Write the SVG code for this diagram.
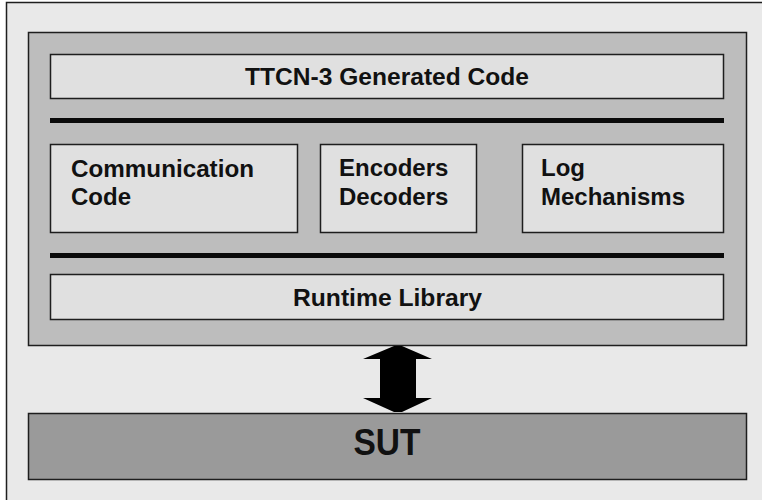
<svg xmlns="http://www.w3.org/2000/svg" width="762" height="500" viewBox="0 0 762 500">
<style>
  .box { fill: #e0e0e0; stroke: #1e1e1e; stroke-width: 1.5; }
  .lbl { font-family: "Liberation Sans", Arial, sans-serif; font-weight: bold; font-size: 24px; fill: #111; }
  .bar { fill: #0a0a0a; }
</style>
<rect x="0" y="0" width="762" height="500" fill="#ffffff"/>
<rect x="6.5" y="2.5" width="770" height="510" fill="#e9e9e9" stroke="#1e1e1e" stroke-width="1.5"/>
<g id="platform">
  <rect x="28.5" y="32.5" width="718" height="313" fill="#bdbdbd" stroke="#1e1e1e" stroke-width="1.5"/>
</g>
<g id="ttcn">
  <rect class="box" x="50.5" y="54.5" width="673" height="44"/>
  <text class="lbl" x="387" y="85" text-anchor="middle" textLength="284" lengthAdjust="spacingAndGlyphs">TTCN-3 Generated Code</text>
</g>
<g id="bar1"><rect class="bar" x="50" y="118" width="674" height="5"/></g>
<g id="comm">
  <rect class="box" x="50.5" y="144.5" width="247" height="88"/>
  <text class="lbl" x="71" y="177" textLength="183" lengthAdjust="spacingAndGlyphs">Communication</text>
  <text class="lbl" x="71" y="205">Code</text>
</g>
<g id="enc">
  <rect class="box" x="320.5" y="144.5" width="156" height="88"/>
  <text class="lbl" x="339" y="176">Encoders</text>
  <text class="lbl" x="339" y="205">Decoders</text>
</g>
<g id="log">
  <rect class="box" x="522.5" y="144.5" width="201" height="88"/>
  <text class="lbl" x="541" y="176">Log</text>
  <text class="lbl" x="541" y="205">Mechanisms</text>
</g>
<g id="bar2"><rect class="bar" x="50" y="253" width="674" height="5"/></g>
<g id="runtime">
  <rect class="box" x="50.5" y="274.5" width="673" height="45"/>
  <text class="lbl" x="387.5" y="306" text-anchor="middle" textLength="189" lengthAdjust="spacingAndGlyphs">Runtime Library</text>
</g>
<g id="connectors">
  <polygon fill="#000" points="394,346 402,346 432,359 416,359 416,398 432,398 402,412 394,412 363,398 380,398 380,359 363,359"/>
</g>
<g id="sut">
  <rect x="28.5" y="413.5" width="718" height="66" fill="#9a9a9a" stroke="#1e1e1e" stroke-width="1.5"/>
  <text class="lbl" x="387" y="455" text-anchor="middle" style="font-size:37px" fill="#000" textLength="67" lengthAdjust="spacingAndGlyphs">SUT</text>
</g>
</svg>
